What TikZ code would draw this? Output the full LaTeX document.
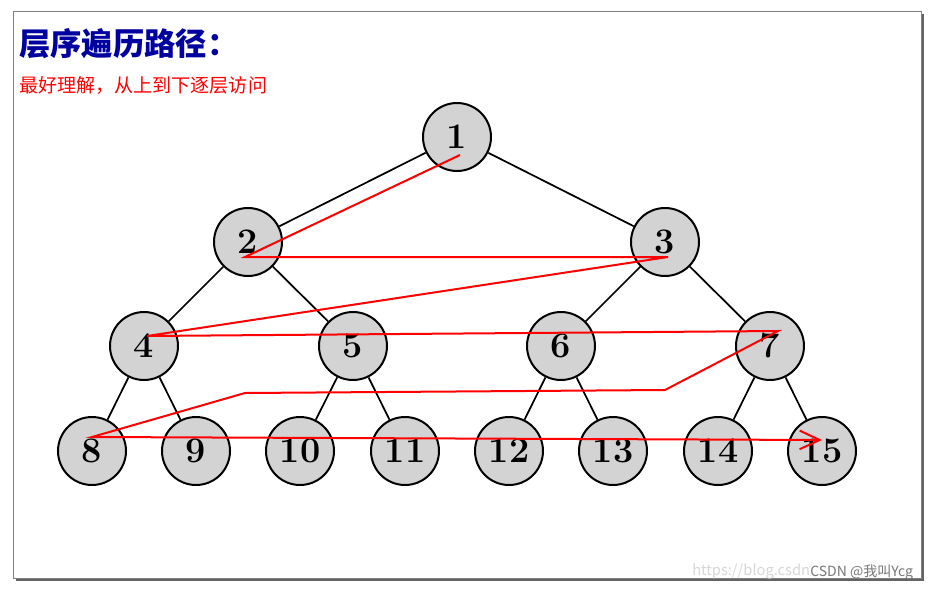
\documentclass[tikz,border=0pt]{standalone}
\usepackage{fontspec}
\newfontfamily\cjk{Noto Sans CJK SC}
\usetikzlibrary{arrows.meta}

\begin{document}
\begin{tikzpicture}[x=0.75pt,y=0.75pt,yscale=-1,xscale=1,
  treenode/.style={circle,draw=black,line width=1.5pt,fill={rgb,255:red,211;green,211;blue,211},
    minimum size=51pt,inner sep=0pt,font=\fontsize{27}{27}\selectfont\bfseries},
  treeedge/.style={draw=black,line width=1.3pt},
  visitpath/.style={draw={rgb,255:red,255;green,0;blue,0},line width=1.5pt}]
\useasboundingbox (0,0) rectangle (933,590);

%Shape: Frame with shadow
\fill [color={rgb, 255:red, 100; green, 100; blue, 100 }] (16,14) rectangle (924,581);
\draw [fill=white,draw={rgb, 255:red, 128; green, 128; blue, 128 }] (13,11) rectangle (921,578);

% Text Node
\node [anchor=west,inner sep=0pt,text={rgb, 255:red, 0; green, 0; blue, 160 },font=\cjk\bfseries\fontsize{23.5}{23.5}\selectfont] (title) at (19,44) {层序遍历路径：};
% Text Node
\node [anchor=west,inner sep=0pt,text={rgb, 255:red, 255; green, 0; blue, 0 },font=\cjk\fontsize{14.3}{14.3}\selectfont] (subtitle) at (19,85) {最好理解，从上到下逐层访问};

%Shape: Tree nodes
\node [treenode] (n1) at (457,137) {1};
\node [treenode] (n2) at (248,242) {2};
\node [treenode] (n3) at (665,242) {3};
\node [treenode] (n4) at (144,346) {4};
\node [treenode] (n5) at (353,346) {5};
\node [treenode] (n6) at (561,346) {6};
\node [treenode] (n7) at (770,346) {7};
\node [treenode] (n8) at (92,451) {8};
\node [treenode] (n9) at (196,451) {9};
\node [treenode] (n10) at (300,451) {10};
\node [treenode] (n11) at (405,451) {11};
\node [treenode] (n12) at (509,451) {12};
\node [treenode] (n13) at (613,451) {13};
\node [treenode] (n14) at (718,451) {14};
\node [treenode] (n15) at (822,451) {15};

%Straight Lines: Tree edges
\draw [treeedge] (n1) -- (n2);
\draw [treeedge] (n1) -- (n3);
\draw [treeedge] (n2) -- (n4);
\draw [treeedge] (n2) -- (n5);
\draw [treeedge] (n3) -- (n6);
\draw [treeedge] (n3) -- (n7);
\draw [treeedge] (n4) -- (n8);
\draw [treeedge] (n4) -- (n9);
\draw [treeedge] (n5) -- (n10);
\draw [treeedge] (n5) -- (n11);
\draw [treeedge] (n6) -- (n12);
\draw [treeedge] (n6) -- (n13);
\draw [treeedge] (n7) -- (n14);
\draw [treeedge] (n7) -- (n15);

%Straight Lines: Level order path
\coordinate (v1) at (460,155);
\coordinate (v2) at (245,257);
\coordinate (v3) at (668,257);
\coordinate (v4) at (147,336);
\coordinate (v5) at (778,331);
\coordinate (b1) at (665,390);
\coordinate (b2) at (245,393);
\coordinate (v8) at (92,437);
\coordinate (v15) at (822,440);
\draw [visitpath,-{Straight Barb[length=15pt,width=14pt,line width=1.5pt]}] (v1) -- (v2) -- (v3) -- (v4) -- (v5) -- (b1) -- (b2) -- (v8) -- (v15);

% Text Node
\node [anchor=west,inner sep=0pt,text={rgb, 255:red, 215; green, 215; blue, 215 },font=\cjk\fontsize{11}{11}\selectfont] (url) at (692,571) {https://blog.csdn};
% Text Node
\node [anchor=west,inner sep=0pt,text={rgb, 255:red, 120; green, 120; blue, 120 },font=\cjk\fontsize{10.5}{10.5}\selectfont] (mark) at (810,572) {CSDN @我叫Ycg};

\end{tikzpicture}
\end{document}
